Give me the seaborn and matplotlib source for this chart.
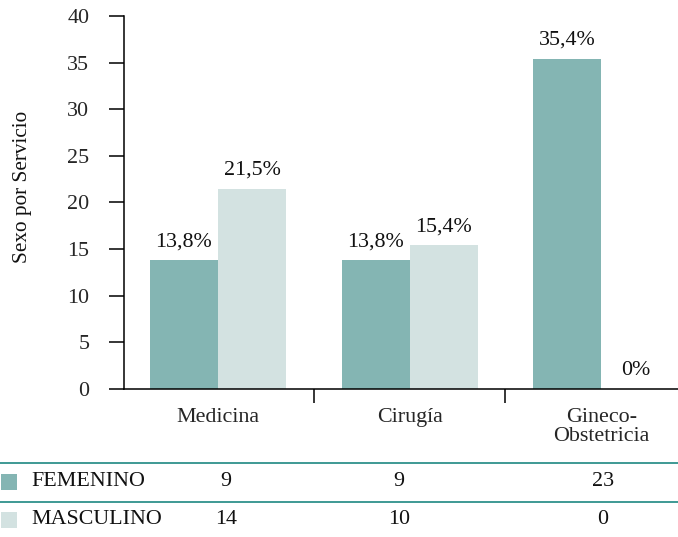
import matplotlib
matplotlib.use("Agg")
import matplotlib.pyplot as plt
import matplotlib.patches as mpatches
import matplotlib.lines as mlines
import seaborn as sns
import pandas as pd

# ---- data ----
servicios = ["Medicina", "Cirugía", "Gineco-\nObstetricia"]
sexos = ["FEMENINO", "MASCULINO"]
pct_femenino = [13.8, 13.8, 35.4]
pct_masculino = [21.5, 15.4, 0.0]
n_femenino = [9, 9, 23]
n_masculino = [14, 10, 0]
y_ticks = [0, 5, 10, 15, 20, 25, 30, 35, 40]
y_label = "Sexo por Servicio"

colors = ["#84B5B3", "#D3E2E1"]
line_color = "#3E9994"

df = pd.DataFrame({
    "servicio": servicios * 2,
    "sexo": [sexos[0]] * 3 + [sexos[1]] * 3,
    "pct": pct_femenino + pct_masculino,
})

sns.set_theme(style="white")
plt.rcParams["font.family"] = ["Liberation Serif", "DejaVu Serif"]
FS = 15.8

W, H = 678, 537
fig = plt.figure(figsize=(W / 100, H / 100), dpi=100)
ax = fig.add_axes([124 / W, 1 - 389 / H, (W - 124) / W, (389 - 16) / H])

sns.barplot(data=df, x="servicio", y="pct", hue="sexo", order=servicios,
            hue_order=sexos, palette=colors, width=0.71, saturation=1,
            legend=False, ax=ax, linewidth=0, errorbar=None)

ax.set_yticks(y_ticks)
ax.set_yticklabels([str(t) for t in y_ticks], fontsize=FS)
ax.tick_params(axis="y", direction="out", length=11, width=1.1, color="black",
               pad=14, left=True)

# x: labels at centers, tick marks at boundaries
ax.set_xticks(range(len(servicios)))
ax.set_xticklabels(servicios, fontsize=FS, linespacing=1.05)
ax.tick_params(axis="x", which="major", length=0, pad=13.5)
ax.set_xticks([-0.5, 0.5, 1.5, 2.5], minor=True)
ax.tick_params(axis="x", which="minor", direction="out", length=10, width=1.1,
               color="black", bottom=True)
ax.set_xlabel("")
ax.set_ylabel("")

ax.set_xlim(-0.49, 2.40)
ax.set_ylim(0, 40)

for s in ["top", "right"]:
    ax.spines[s].set_visible(False)
for s in ["left", "bottom"]:
    ax.spines[s].set_color("black")
    ax.spines[s].set_linewidth(1.1)

# value labels
for cont in ax.containers:
    labels = [f"{v:.1f}".replace(".", ",") + "%" if v > 0 else "0%"
              for v in cont.datavalues]
    ax.bar_label(cont, labels=labels, padding=6.5, fontsize=FS, color="#111111")

fig.text(23 / W, 1 - 187 / H, y_label, rotation=90, ha="center", va="center",
         fontsize=FS - 0.5, color="#111111")

# ---- data table below ----
for yl in [463, 502]:
    fig.add_artist(mlines.Line2D([0, 1], [1 - yl / H, 1 - yl / H],
                                 color=line_color, linewidth=1.4,
                                 transform=fig.transFigure))

col_x = [226, 399, 603]
rows = [(sexos[0], n_femenino, 482, colors[0]),
        (sexos[1], n_masculino, 520, colors[1])]
for name, vals, yc, col in rows:
    fig.add_artist(mpatches.Rectangle((1 / W, 1 - (yc + 8) / H), 16 / W, 16 / H,
                                      facecolor=col, edgecolor="none",
                                      transform=fig.transFigure))
    fig.text(31 / W, 1 - yc / H, name, ha="left", va="center",
             fontsize=FS, color="#111111")
    for x, v in zip(col_x, vals):
        fig.text(x / W, 1 - yc / H, str(v), ha="center", va="center",
                 fontsize=FS, color="#111111")

fig.savefig("out.png", dpi=100)
